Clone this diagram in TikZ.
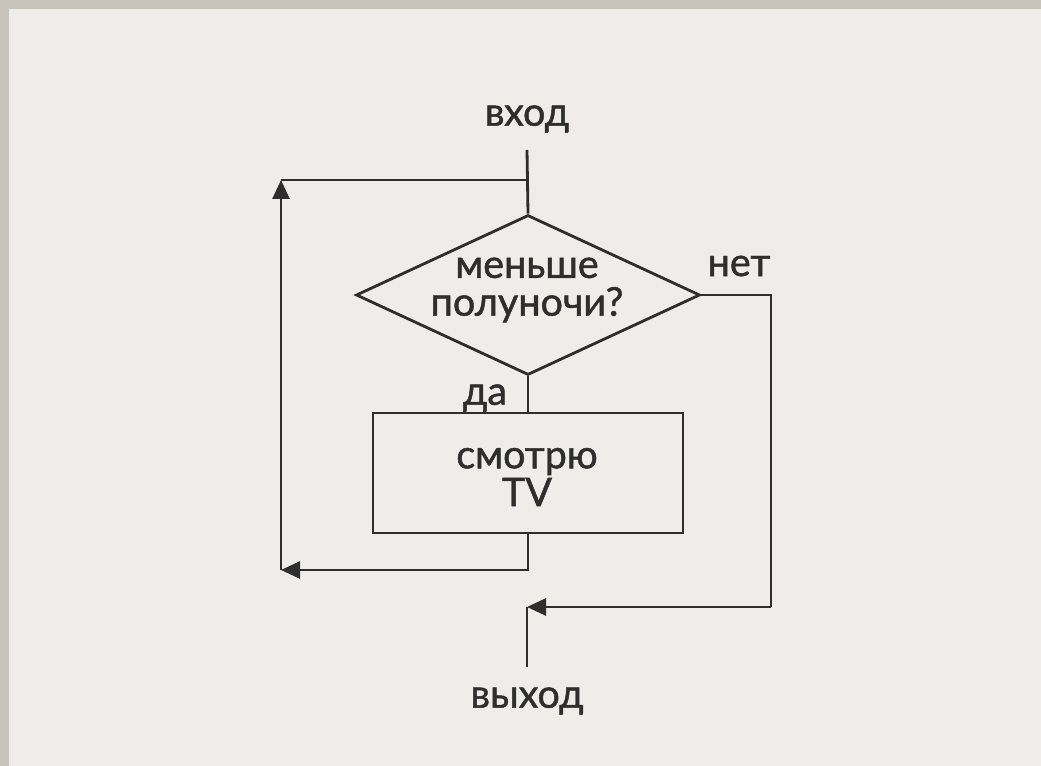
\documentclass[tikz,border=0pt]{standalone}
\usepackage{fontspec}
\setmainfont{Lato}[BoldFont=Lato,BoldFeatures={FakeBold=1.2}]
\usetikzlibrary{shapes.geometric,arrows.meta}
\definecolor{pagebg}{HTML}{EEEDE9}
\definecolor{framegrey}{HTML}{C8C3BA}
\definecolor{ink}{HTML}{2E2E2E}
\begin{document}
\begin{tikzpicture}[x=0.02cm,y=-0.02cm,
  conn/.style={draw=ink,line width=1.6pt},
  arr/.style={conn,-{Triangle[length=0.38cm,width=0.34cm]}},
  lbl/.style={text=ink,font=\fontsize{22.5}{21.5}\selectfont\bfseries,inner sep=0pt,align=center},
  decision/.style={diamond,draw=ink,line width=1.6pt,minimum width=6.88cm,minimum height=3.2cm,inner sep=0pt},
  process/.style={rectangle,draw=ink,line width=1.6pt,minimum width=6.2cm,minimum height=2.4cm,inner sep=0pt}]
\useasboundingbox (0,0) rectangle (1041,766);
\fill[framegrey] (0,0) rectangle (1041,766);
\fill[pagebg] (9,9) rectangle (1041,766);
% nodes
\node[lbl] (in) at (527,119) {вход};
\coordinate (top) at (527,150);
\coordinate (j1) at (527,180);
\node[decision] (d) at (528,295) {};
\node[lbl] (dtext) at (527,290) {меньше\\полуночи?};
\node[lbl] (no) at (739,266) {нет};
\node[lbl] (yes) at (485,398) {да};
\node[process] (tv) at (528,473) {};
\node[lbl] (tvtext) at (527,477) {смотрю\\TV};
\coordinate (j2) at (527,570);
\coordinate (bl) at (281,570);
\coordinate (tl) at (281,180);
\coordinate (br) at (771,607);
\coordinate (j3) at (527,607);
\coordinate (exitend) at (527,667);
\node[lbl] (out) at (527,701) {выход};
% connectors
\draw[conn] (top) -- (d.north);
\draw[conn] (d.south) -- (tv.north);
\draw[arr] (tv.south) |- (bl);
\draw[arr] (bl) -- (tl);
\draw[conn] (tl) -- (j1);
\draw[conn] (d.east) -| (br);
\draw[arr] (br) -- (j3);
\draw[conn] (j3) -- (exitend);
\end{tikzpicture}
\end{document}
